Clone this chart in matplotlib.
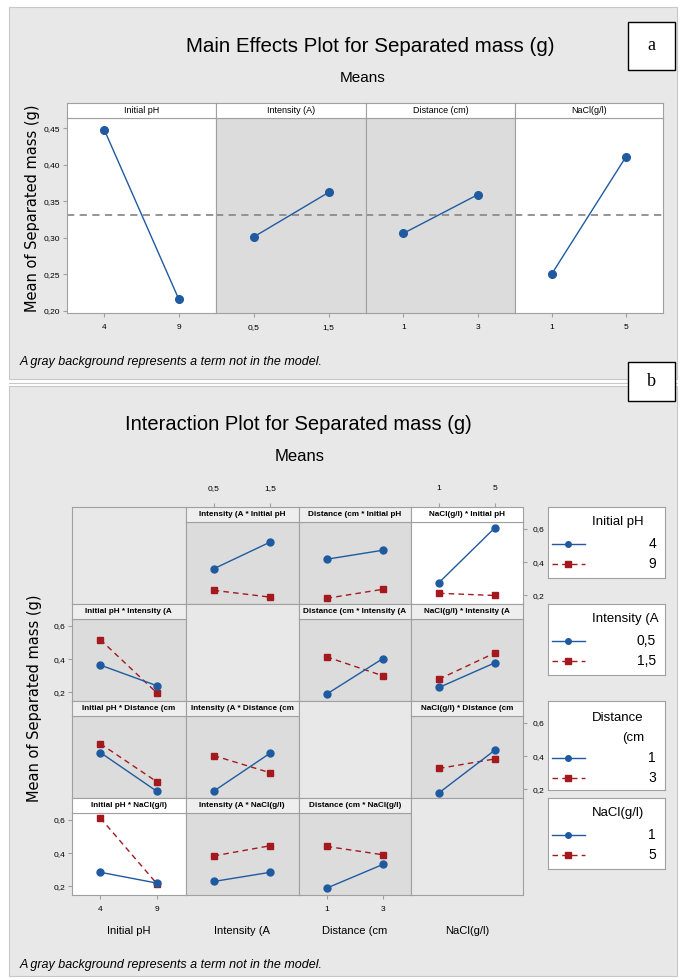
import matplotlib
matplotlib.use("Agg")
import matplotlib.pyplot as plt
from matplotlib.patches import Rectangle
from matplotlib.lines import Line2D
from matplotlib.ticker import FuncFormatter

plt.rcParams['font.family'] = ['Liberation Sans', 'DejaVu Sans']

# ---------------- data ----------------
me_factors = ["Initial pH", "Intensity (A)", "Distance (cm)", "NaCl(g/l)"]
me_levels = [["4", "9"], ["0,5", "1,5"], ["1", "3"], ["1", "5"]]
me_ph = [0.448, 0.216]
me_intensity = [0.301, 0.362]
me_distance = [0.306, 0.359]
me_nacl = [0.251, 0.411]
grand_mean = 0.331
me_in_model = [True, False, False, True]

ix_factors = ["Initial pH", "Intensity (A", "Distance (cm", "NaCl(g/l)"]
ix_levels = [["4", "9"], ["0,5", "1,5"], ["1", "3"], ["1", "5"]]

# trace factor level series, x factor = other factor
ph4_vs_intensity = [0.360, 0.520]
ph9_vs_intensity = [0.231, 0.190]
ph4_vs_distance = [0.417, 0.471]
ph9_vs_distance = [0.183, 0.237]
ph4_vs_nacl = [0.277, 0.606]
ph9_vs_nacl = [0.213, 0.200]

int05_vs_ph = [0.364, 0.240]
int15_vs_ph = [0.516, 0.196]
int05_vs_distance = [0.190, 0.403]
int15_vs_distance = [0.413, 0.300]
int05_vs_nacl = [0.230, 0.378]
int15_vs_nacl = [0.280, 0.437]

dist1_vs_ph = [0.421, 0.188]
dist3_vs_ph = [0.474, 0.245]
dist1_vs_intensity = [0.190, 0.418]
dist3_vs_intensity = [0.403, 0.300]
dist1_vs_nacl = [0.180, 0.436]
dist3_vs_nacl = [0.326, 0.383]

nacl1_vs_ph = [0.285, 0.220]
nacl5_vs_ph = [0.610, 0.215]
nacl1_vs_intensity = [0.230, 0.285]
nacl5_vs_intensity = [0.383, 0.444]
nacl1_vs_distance = [0.190, 0.332]
nacl5_vs_distance = [0.440, 0.390]

# (row = trace factor, col = x factor) -> (low-level series, high-level series)
ix_series = {
    (0, 1): (ph4_vs_intensity, ph9_vs_intensity),
    (0, 2): (ph4_vs_distance, ph9_vs_distance),
    (0, 3): (ph4_vs_nacl, ph9_vs_nacl),
    (1, 0): (int05_vs_ph, int15_vs_ph),
    (1, 2): (int05_vs_distance, int15_vs_distance),
    (1, 3): (int05_vs_nacl, int15_vs_nacl),
    (2, 0): (dist1_vs_ph, dist3_vs_ph),
    (2, 1): (dist1_vs_intensity, dist3_vs_intensity),
    (2, 3): (dist1_vs_nacl, dist3_vs_nacl),
    (3, 0): (nacl1_vs_ph, nacl5_vs_ph),
    (3, 1): (nacl1_vs_intensity, nacl5_vs_intensity),
    (3, 2): (nacl1_vs_distance, nacl5_vs_distance),
}
ix_in_model = [(0, 3), (3, 0)]
ix_yticks = [0.2, 0.4, 0.6]
legend_titles = ["Initial pH", "Intensity (A", "Distance\n(cm", "NaCl(g/l)"]

# ---------------- style ----------------
W, H = 685, 980
BLUE = '#1F5AA0'
RED = '#A3191E'
BG = '#E8E8E8'
GRAYPANEL = '#DCDCDC'
EDGE = '#A0A0A0'

fig = plt.figure(figsize=(W / 100, H / 100), dpi=100)
fig.patch.set_facecolor('white')


def ax_px(x0, y0, x1, y1, **kw):
    return fig.add_axes([x0 / W, 1 - y1 / H, (x1 - x0) / W, (y1 - y0) / H], **kw)


def fx(x):
    return x / W


def fy(y):
    return 1 - y / H


comma = FuncFormatter(lambda v, p: ("%.2f" % v).replace('.', ','))
comma1 = FuncFormatter(lambda v, p: ("%.1f" % v).replace('.', ','))

# panel backgrounds
for (y0, y1) in [(7, 379), (386, 976)]:
    fig.patches.append(Rectangle((fx(9), fy(y1)), fx(677) - fx(9), fy(y0) - fy(y1),
                                 transform=fig.transFigure, facecolor=BG,
                                 edgecolor='#C8C8C8', lw=0.8, zorder=-10))

# label boxes a / b
for lab, (x0, y0, x1, y1) in [("a", (628, 22, 675, 70)), ("b", (628, 362, 675, 401))]:
    fig.patches.append(Rectangle((fx(x0), fy(y1)), fx(x1) - fx(x0), fy(y0) - fy(y1),
                                 transform=fig.transFigure, facecolor='white',
                                 edgecolor='black', lw=1.0, zorder=5))
    fig.text(fx((x0 + x1) / 2), fy((y0 + y1) / 2), lab, ha='center', va='center',
             fontsize=13, family='Liberation Serif', zorder=6)


def style_spines(ax):
    for s in ax.spines.values():
        s.set_color(EDGE)
        s.set_linewidth(0.8)


# ---------------- Main effects ----------------
fig.text(fx(370), fy(47), "Main Effects Plot for Separated mass (g)", ha='center',
         va='center', fontsize=14.8)
fig.text(fx(363), fy(78), "Means", ha='center', va='center', fontsize=11)
fig.text(fx(33), fy(208), "Mean of Separated mass (g)", rotation=90, ha='center',
         va='center', fontsize=10.5, family='DejaVu Sans')

me_vals = [me_ph, me_intensity, me_distance, me_nacl]
me_x = [67, 216, 366, 515, 663]
for i, (name, levs, vals) in enumerate(zip(me_factors, me_levels, me_vals)):
    x0, x1 = me_x[i], me_x[i + 1]
    ax = ax_px(x0, 118, x1, 313)
    ax.set_facecolor('white' if me_in_model[i] else GRAYPANEL)
    xs = list(range(len(levs)))
    ax.axhline(grand_mean, color='#8C8C8C', lw=1.3, ls=(0, (4, 3)), zorder=1)
    ax.plot(xs, vals, '-', color=BLUE, lw=1.0, zorder=2)
    ax.plot(xs, vals, 'o', color=BLUE, ms=5.5, zorder=3)
    ax.set_xlim(-0.5, len(levs) - 0.5)
    ax.set_ylim(0.197, 0.464)
    ax.set_xticks(xs)
    ax.set_xticklabels(levs)
    ax.tick_params(axis='x', labelsize=6, length=3, color=EDGE, pad=5)
    if i == 0:
        ax.set_yticks([0.20, 0.25, 0.30, 0.35, 0.40, 0.45])
        ax.yaxis.set_major_formatter(comma)
        ax.tick_params(axis='y', labelsize=6, length=3, color=EDGE, pad=2)
    else:
        ax.set_yticks([])
    style_spines(ax)
    sax = ax_px(x0, 103, x1, 118)
    sax.set_facecolor('white')
    sax.set_xticks([])
    sax.set_yticks([])
    style_spines(sax)
    sax.text(0.5, 0.5, name, ha='center', va='center', fontsize=6.5, transform=sax.transAxes)

fig.text(fx(20), fy(362), "A gray background represents a term not in the model.",
         ha='left', va='center', fontsize=9, style='italic')

# separator
fig.add_artist(Line2D([fx(9), fx(677)], [fy(383), fy(383)], color='#C8C8C8', lw=0.8))

# ---------------- Interaction plot ----------------
fig.text(fx(298), fy(424), "Interaction Plot for Separated mass (g)", ha='center',
         va='center', fontsize=14.5)
fig.text(fx(300), fy(456), "Means", ha='center', va='center', fontsize=12)
fig.text(fx(35), fy(698), "Mean of Separated mass (g)", rotation=90, ha='center',
         va='center', fontsize=10.5, family='DejaVu Sans')

cols = [72, 185.5, 298.5, 411, 523]
rows = [507, 604, 701, 798, 895]
STRIP = 15
YL = (0.149, 0.640)

for r in range(4):
    for c in range(4):
        x0, x1 = cols[c], cols[c + 1]
        y0, y1 = rows[r], rows[r + 1]
        if r == c:
            ax = ax_px(x0, y0, x1, y1)
            ax.set_facecolor(BG)
            ax.set_xticks([])
            ax.set_yticks([])
            style_spines(ax)
            continue
        white = (r, c) in ix_in_model
        ax = ax_px(x0, y0 + STRIP, x1, y1)
        ax.set_facecolor('white' if white else GRAYPANEL)
        levs = ix_levels[c]
        xs = list(range(len(levs)))
        lo, hi = ix_series[(r, c)]
        ax.plot(xs, lo, '-o', color=BLUE, lw=1.0, ms=5, zorder=3)
        ax.plot(xs, hi, '--s', color=RED, lw=1.0, ms=5, dashes=(4, 3), zorder=2)
        ax.set_xlim(-0.5, len(levs) - 0.5)
        ax.set_ylim(*YL)
        ax.set_xticks([])
        ax.set_yticks([])
        style_spines(ax)
        # y ticks
        if (c == 0 and r in (1, 3)) or (c == 3 and r in (0, 2)):
            ax.set_yticks(ix_yticks)
            ax.yaxis.set_major_formatter(comma1)
            if c == 3:
                ax.yaxis.tick_right()
                ax.tick_params(axis='y', labelsize=6, length=3, color=EDGE, pad=4)
            else:
                ax.tick_params(axis='y', labelsize=6, length=3, color=EDGE, pad=2)
        # bottom x ticks
        if r == 3 and c in (0, 2):
            ax.set_xticks(xs)
            ax.set_xticklabels(levs)
            ax.tick_params(axis='x', labelsize=6, length=3, color=EDGE, pad=5)
        sax = ax_px(x0, y0, x1, y0 + STRIP)
        sax.set_facecolor('white' if white else '#EEEEEE')
        sax.set_xlim(-0.5, len(levs) - 0.5)
        sax.set_yticks([])
        sax.set_xticks([])
        if r == 0 and c in (1, 3):
            sax.set_xticks(xs)
            sax.set_xticklabels(levs)
            sax.xaxis.tick_top()
            sax.tick_params(axis='x', labelsize=6, length=3, color=EDGE, pad=8)
        style_spines(sax)
        sax.text(0.5, 0.5, ix_factors[c] + " * " + ix_factors[r], ha='center', va='center',
                 fontsize=5.9, fontweight='bold', transform=sax.transAxes)

# x axis factor labels
for c in range(4):
    fig.text(fx((cols[c] + cols[c + 1]) / 2), fy(931), ix_factors[c], ha='center',
             va='center', fontsize=8)

# legends
leg_boxes = [(507, 578), (604, 675), (701, 790), (798, 869)]
for k, (y0, y1) in enumerate(leg_boxes):
    lax = ax_px(548, y0, 665, y1)
    lax.set_facecolor('white')
    lax.set_xticks([])
    lax.set_yticks([])
    style_spines(lax)
    lax.set_xlim(548, 665)
    lax.set_ylim(y1, y0)
    title = legend_titles[k]
    if "\n" in title:
        t1, t2 = title.split("\n")
        lax.text(592, y0 + 17, t1, ha='left', va='center', fontsize=9.5)
        lax.text(622, y0 + 37, t2, ha='left', va='center', fontsize=9.5)
        e1, e2 = y0 + 57, y0 + 77
    else:
        lax.text(592, y0 + 15, title, ha='left', va='center', fontsize=9.5)
        e1, e2 = y0 + 37, y0 + 57
    lev = ix_levels[k]
    lax.plot([552, 585], [e1, e1], '-', color=BLUE, lw=1.0)
    lax.plot([568], [e1], 'o', color=BLUE, ms=4)
    lax.plot([552, 585], [e2, e2], '-', color=RED, lw=1.0, dashes=(4, 3))
    lax.plot([568], [e2], 's', color=RED, ms=4)
    lax.text(656, e1, lev[0], ha='right', va='center', fontsize=10)
    lax.text(656, e2, lev[1], ha='right', va='center', fontsize=10)

fig.text(fx(20), fy(965), "A gray background represents a term not in the model.",
         ha='left', va='center', fontsize=9, style='italic')

fig.savefig("out.png", dpi=100, facecolor='white')
